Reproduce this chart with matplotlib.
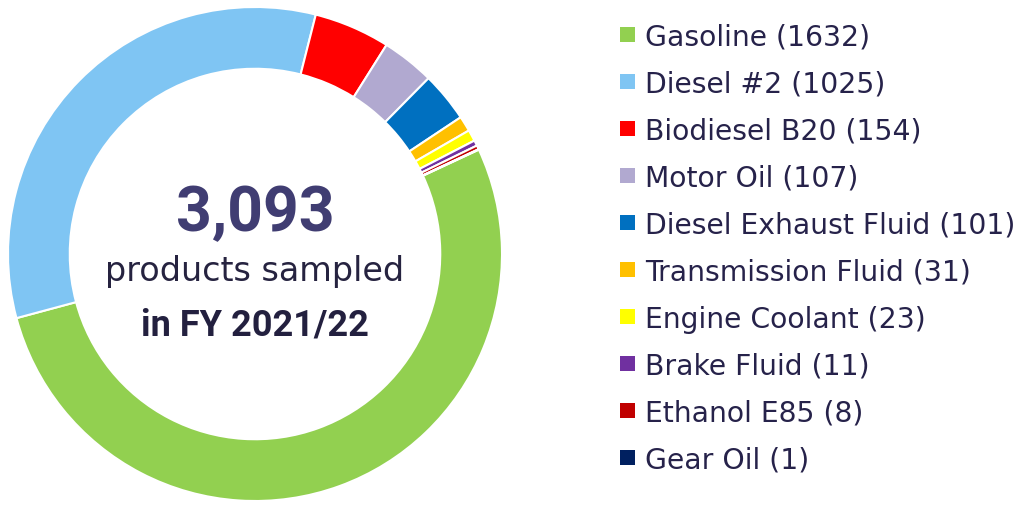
import matplotlib.pyplot as plt
from matplotlib.patches import Rectangle

# Products sampled, FY 2021/22
products = ['Gasoline', 'Diesel #2', 'Biodiesel B20', 'Motor Oil',
            'Diesel Exhaust Fluid', 'Transmission Fluid', 'Engine Coolant',
            'Brake Fluid', 'Ethanol E85', 'Gear Oil']
counts = [1632, 1025, 154, 107, 101, 31, 23, 11, 8, 1]
colors = ['#92D050', '#7FC5F3', '#FF0000', '#B1A9D0', '#0070C0',
          '#FFC000', '#FFFF00', '#7030A0', '#C00000', '#002060']

W, H = 1027, 506
fig = plt.figure(figsize=(W / 100, H / 100), dpi=100)
ax = fig.add_axes([0, 0, 1, 1])
ax.set_xlim(0, W)
ax.set_ylim(0, H)
ax.set_aspect('equal')
ax.axis('off')


def yy(y_img):
    # image pixel row -> data y
    return H - y_img


cx, cy, r = 255, 255, 247
ax.pie(counts, colors=colors, center=(cx, yy(cy)), radius=r,
       startangle=25, counterclock=False,
       wedgeprops=dict(width=r * 0.25, edgecolor='white', linewidth=1.5))
ax.set_xlim(0, W)
ax.set_ylim(0, H)

# centre text
total = sum(counts)
ax.text(cx, yy(231), f'{total:,}', ha='center', va='baseline',
        fontsize=45, fontweight='bold', family='Roboto', color='#403D72')
ax.text(cx, yy(281), 'products sampled', ha='center', va='baseline',
        fontsize=24, family='DejaVu Sans', color='#262340')
ax.text(cx, yy(335), 'in FY 2021/22', ha='center', va='baseline',
        fontsize=26, fontweight='bold', family='Roboto', color='#23203F')

# legend
row0, pitch = 35, 47.1
for i, (name, n, c) in enumerate(zip(products, counts, colors)):
    yc = row0 + i * pitch
    ax.add_patch(Rectangle((620, yy(yc + 7.5)), 15, 15, facecolor=c,
                           edgecolor='none'))
    ax.text(645, yy(yc + 10), f'{name} ({n})', ha='left', va='baseline',
            fontsize=20.3, family='DejaVu Sans', color='#26224A')

fig.savefig('out.png', dpi=100)
